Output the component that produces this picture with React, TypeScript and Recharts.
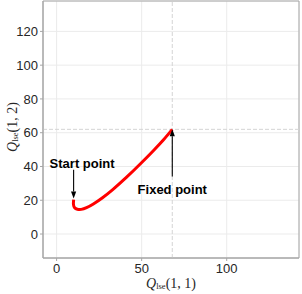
import React from "react";
import {
  ComposedChart,
  Line,
  XAxis,
  YAxis,
  CartesianGrid,
  ReferenceLine,
  ReferenceArea,
  ReferenceDot,
} from "recharts";

// trajectory of Q_lse from the start point to the fixed point
const curveX = [10.0, 9.9, 10.6, 12.2, 14.5, 17.6, 21.6, 27.0, 33.0, 41.0, 49.0, 57.0, 63.0, 68.0];
const curveY = [20.3, 17.5, 15.6, 14.7, 14.6, 15.6, 17.8, 21.5, 26.3, 33.5, 41.3, 49.5, 56.0, 62.0];

const xTicks = [0, 50, 100];
const yTicks = [0, 20, 40, 60, 80, 100, 120];
const xDomain = [-8, 142.5];
const yDomain = [-14.2, 138];

const startPoint = { x: 10, y: 21 };
const fixedPoint = { x: 68, y: 62 };
const startArrowTail = { x: 10, y: 38 };
const fixedArrowTail = { x: 68, y: 34 };
const startLabel = { x: 15, y: 41.8, text: "Start point" };
const fixedLabel = { x: 68, y: 26.6, text: "Fixed point" };

const curve = curveX.map((x, i) => ({ x, y: curveY[i] }));

const AXIS_GRAY = "#a6a6a6";
const TEXT_GRAY = "#262626";

// line with a filled head at (x2, y2)
const arrowShape = (props: any) => {
  const { x1, y1, x2, y2 } = props;
  const dx = x2 - x1;
  const dy = y2 - y1;
  const len = Math.sqrt(dx * dx + dy * dy) || 1;
  const ux = dx / len;
  const uy = dy / len;
  const hl = 7;
  const hw = 2.6;
  const bx = x2 - ux * hl;
  const by = y2 - uy * hl;
  const pts = `${x2},${y2} ${bx - uy * hw},${by + ux * hw} ${bx + uy * hw},${by - ux * hw}`;
  return (
    <g>
      <line x1={x1} y1={y1} x2={bx} y2={by} stroke="#000" strokeWidth={1.1} />
      <polygon points={pts} fill="#000" />
    </g>
  );
};

const labelShape = (text: string) => (props: any) => (
  <text
    x={props.cx}
    y={props.cy}
    textAnchor="middle"
    dominantBaseline="central"
    fontFamily="Liberation Sans, Arial, sans-serif"
    fontWeight="bold"
    fontSize={13}
    fill="#000"
  >
    {text}
  </text>
);

const AxisTitle = ({ x, y, rotate, idx }: { x: number; y: number; rotate?: boolean; idx: string }) => (
  <text
    x={x}
    y={y}
    textAnchor="middle"
    dominantBaseline="central"
    transform={rotate ? `rotate(-90 ${x} ${y})` : undefined}
    fontFamily="Liberation Serif, 'DejaVu Serif', serif"
    fill={TEXT_GRAY}
  >
    <tspan fontStyle="italic" fontSize={14}>Q</tspan>
    <tspan fontSize={8.5} dy={3}>lse</tspan>
    <tspan fontSize={14} dy={-3}>{`(${idx})`}</tspan>
  </text>
);

export default function App() {
  const tickStyle = {
    fontSize: 13,
    fill: TEXT_GRAY,
    fontFamily: "Liberation Sans, Arial, sans-serif",
  };

  return (
    <div style={{ position: "absolute", left: 0, top: 0, background: "#fff" }}>
      <ComposedChart
        width={302}
        height={294}
        margin={{ top: 1, right: 3, left: 0, bottom: 0 }}
      >
        <CartesianGrid stroke="#ebebeb" strokeWidth={1} />
        <XAxis
          type="number"
          dataKey="x"
          domain={xDomain}
          ticks={xTicks}
          allowDataOverflow
          height={36}
          tick={tickStyle}
          tickSize={3}
          tickMargin={3}
          stroke={AXIS_GRAY}
          label={(p: any) => <AxisTitle x={171} y={283} idx="1, 1" />}
        />
        <YAxis
          type="number"
          dataKey="y"
          domain={yDomain}
          ticks={yTicks}
          allowDataOverflow
          width={43}
          tick={tickStyle}
          tickSize={3}
          tickMargin={2}
          stroke={AXIS_GRAY}
          label={(p: any) => <AxisTitle x={12} y={127} rotate idx="1, 2" />}
        />
        <ReferenceArea
          x1={xDomain[0]}
          x2={xDomain[1]}
          y1={yDomain[0]}
          y2={yDomain[1]}
          fill="none"
          stroke={AXIS_GRAY}
          ifOverflow="visible"
        />
        <ReferenceLine x={fixedPoint.x} stroke="#d4d4d4" strokeDasharray="4 2" />
        <ReferenceLine y={fixedPoint.y} stroke="#d4d4d4" strokeDasharray="4 2" />
        <Line
          data={curve}
          dataKey="y"
          type="natural"
          stroke="#ff0000"
          strokeWidth={3}
          dot={false}
          isAnimationActive={false}
        />
        <ReferenceLine segment={[startArrowTail, startPoint]} shape={arrowShape} />
        <ReferenceLine segment={[fixedArrowTail, fixedPoint]} shape={arrowShape} />
        <ReferenceDot x={startLabel.x} y={startLabel.y} shape={labelShape(startLabel.text)} />
        <ReferenceDot x={fixedLabel.x} y={fixedLabel.y} shape={labelShape(fixedLabel.text)} />
      </ComposedChart>
    </div>
  );
}
